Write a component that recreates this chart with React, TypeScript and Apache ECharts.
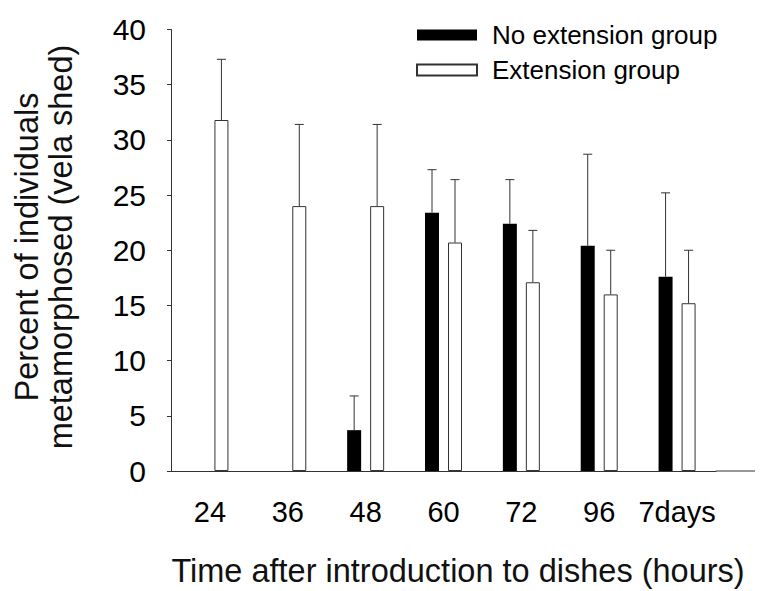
import React, { useEffect, useRef } from "react";
import * as echarts from "echarts";

// Sampling times (hours after introduction to dishes)
const categories = ["24", "36", "48", "60", "72", "96", "7days"];

// Mean percent metamorphosed and standard error, per group
const noExtensionMean = [0, 0, 3.7, 23.4, 22.4, 20.4, 17.6];
const noExtensionSE = [0, 0, 3.1, 3.9, 4.0, 8.3, 7.6];
const extensionMean = [31.8, 24.0, 24.0, 20.7, 17.1, 16.0, 15.2];
const extensionSE = [5.5, 7.4, 7.4, 5.7, 4.7, 4.0, 4.8];

const yTicks = { min: 0, max: 40, interval: 5 };

const FONT = "'Liberation Sans', Arial, Helvetica, sans-serif";
const GRID = { left: 171, right: 44, top: 29.5, bottom: 120 };
const BAR_WIDTH = 14;
const BAR_GAP_PX = 9;
const CAP_HALF = 4.5;
const INK = "#111";

function errorSeries(mean: number[], se: number[], side: number) {
  const offset = side * (BAR_WIDTH + BAR_GAP_PX) / 2;
  return {
    type: "custom",
    silent: true,
    z: 3,
    encode: { x: 0, y: 1 },
    data: mean.map((m, i) => [i, m, se[i]]),
    renderItem: (_params: any, api: any) => {
      const idx = api.value(0);
      const m = api.value(1);
      const e = api.value(2);
      if (!(e > 0)) return null;
      const base = api.coord([idx, m]);
      const top = api.coord([idx, m + e]);
      const x = base[0] + offset;
      const style = { stroke: "#333", lineWidth: 1 };
      return {
        type: "group",
        children: [
          { type: "line", shape: { x1: x, y1: base[1], x2: x, y2: top[1] }, style },
          { type: "line", shape: { x1: x - CAP_HALF, y1: top[1], x2: x + CAP_HALF, y2: top[1] }, style },
        ],
      };
    },
  };
}

export default function App() {
  const ref = useRef<HTMLDivElement>(null);

  useEffect(() => {
    if (!ref.current) return;
    const chart = echarts.init(ref.current, null, { renderer: "svg" });
    const W = 760;
    const H = 591;
    const axisBottomY = H - GRID.bottom;

    chart.setOption({
      animation: false,
      backgroundColor: "#fff",
      textStyle: { fontFamily: FONT, color: "#000" },
      grid: GRID,
      legend: {
        orient: "vertical",
        left: 416,
        top: 22,
        padding: 0,
        itemWidth: 60,
        itemHeight: 11,
        itemGap: 9,
        icon: "rect",
        data: ["No extension group", "Extension group"],
        textStyle: { fontFamily: FONT, fontSize: 26, color: "#000", lineHeight: 25, padding: [0, 0, 0, 10] },
      },
      xAxis: {
        type: "category",
        data: categories,
        boundaryGap: true,
        axisLine: { lineStyle: { color: "#333", width: 1 } },
        axisTick: { alignWithLabel: true, length: 5, lineStyle: { color: "#333" } },
        axisLabel: { interval: 0, fontFamily: FONT, fontSize: 29, color: "#000", margin: 26 },
        splitLine: { show: false },
      },
      yAxis: {
        type: "value",
        min: yTicks.min,
        max: yTicks.max,
        interval: yTicks.interval,
        axisLine: { show: true, lineStyle: { color: "#333", width: 1 } },
        axisTick: { show: true, length: 4, lineStyle: { color: "#333" } },
        axisLabel: { fontFamily: FONT, fontSize: 30, color: "#000", margin: 25 },
        splitLine: { show: false },
      },
      graphic: [
        {
          type: "line",
          shape: { x1: W - GRID.right, y1: axisBottomY, x2: 755, y2: axisBottomY },
          style: { stroke: "#333", lineWidth: 1 },
        },
        {
          type: "text",
          x: 458,
          y: 571,
          style: {
            text: "Time after introduction to dishes (hours)",
            fontFamily: FONT,
            fontSize: 32.5,
            fill: INK,
            align: "center",
            verticalAlign: "middle",
          },
        },
        {
          type: "text",
          x: 43.5,
          y: 247,
          rotation: Math.PI / 2,
          style: {
            text: "Percent of individuals\nmetamorphosed (vela shed)",
            fontFamily: FONT,
            fontSize: 32.5,
            lineHeight: 34,
            fill: INK,
            align: "center",
            verticalAlign: "middle",
          },
        },
      ],
      series: [
        {
          name: "No extension group",
          type: "bar",
          data: noExtensionMean,
          barWidth: BAR_WIDTH,
          barGap: `${(BAR_GAP_PX / BAR_WIDTH) * 100}%`,
          itemStyle: { color: "#000", borderWidth: 0 },
        },
        {
          name: "Extension group",
          type: "bar",
          data: extensionMean,
          barWidth: BAR_WIDTH,
          itemStyle: { color: "#fff", borderColor: "#333", borderWidth: 1 },
        },
        errorSeries(noExtensionMean, noExtensionSE, -1),
        errorSeries(extensionMean, extensionSE, 1),
      ],
    });

    return () => chart.dispose();
  }, []);

  return (
    <div
      ref={ref}
      style={{ position: "fixed", left: 0, top: 0, width: 760, height: 591 }}
    />
  );
}
